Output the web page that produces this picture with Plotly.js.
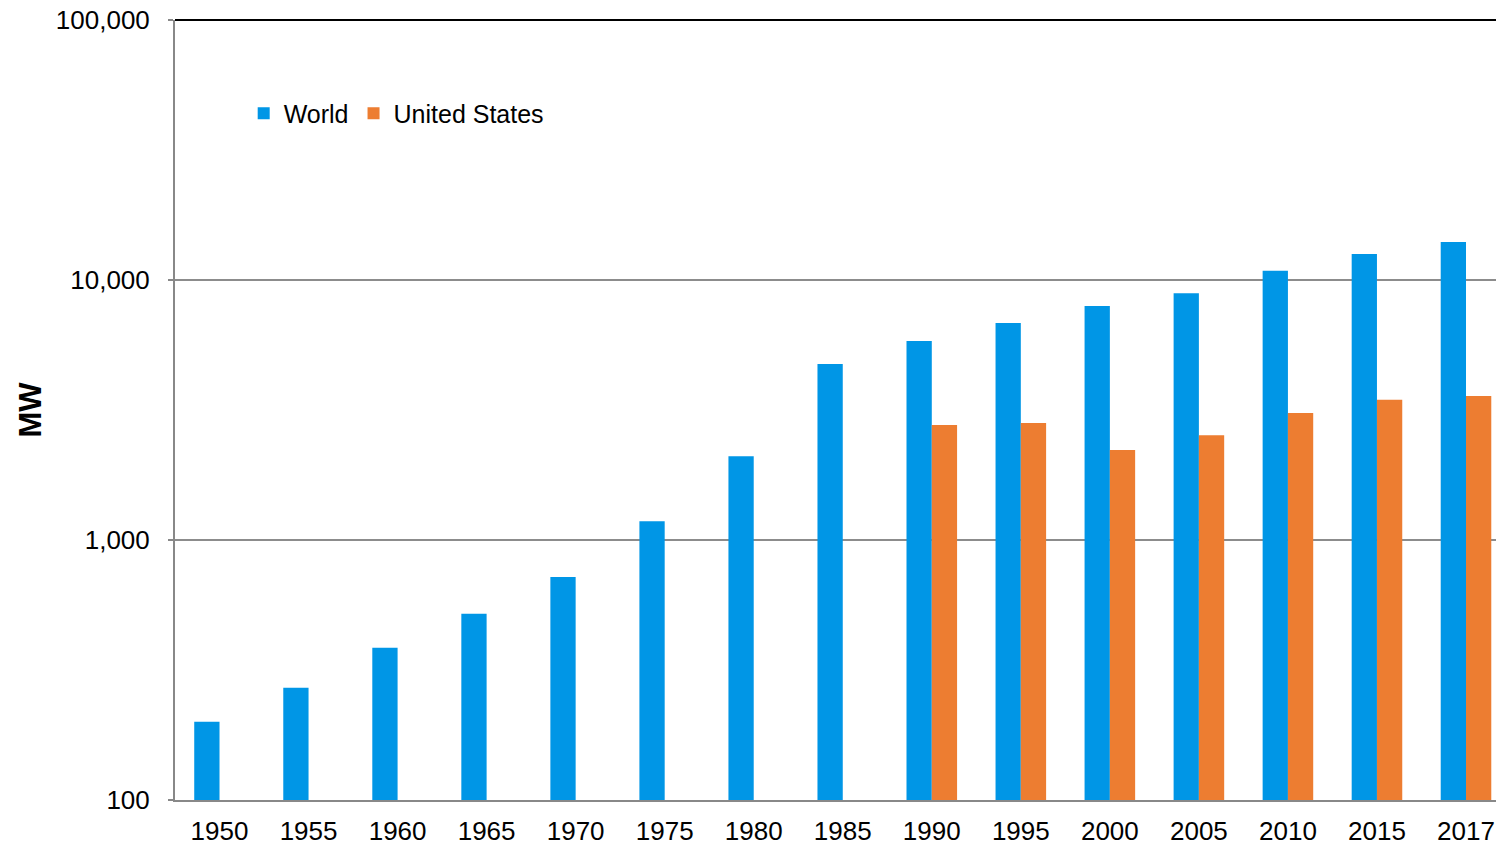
<!DOCTYPE html>
<html>
<head>
<meta charset="utf-8">
<script src="https://cdn.plot.ly/plotly-3.0.1.min.js"></script>
<style>
html,body{margin:0;padding:0;background:#fff;overflow:hidden;}
#chart{width:1496px;height:848px;}
</style>
</head>
<body>
<div id="chart"></div>
<script>
const years = ['1950','1955','1960','1965','1970','1975','1980','1985','1990','1995','2000','2005','2010','2015','2017'];
const worldMW = [200, 270, 385, 520, 720, 1180, 2100, 4750, 5820, 6830, 7950, 8900, 10850, 12600, 14000];
const usMW = [null, null, null, null, null, null, null, null, 2770, 2820, 2220, 2530, 3080, 3460, 3580];
const yTickVals = [100, 1000, 10000, 100000];
const yTickText = ['100', '1,000', '10,000', '100,000'];

const font = 'Liberation Sans, Arial, sans-serif';

const traces = [
  {type:'bar', name:'World', x:years, y:worldMW, marker:{color:'#0096E6'}},
  {type:'bar', name:'United States', x:years, y:usMW, marker:{color:'#ED7D31'}}
];

const layout = {
  width:1496, height:848,
  margin:{l:175, r:0, t:20, b:48},
  paper_bgcolor:'#fff', plot_bgcolor:'#fff',
  font:{family:font, size:26, color:'#000'},
  barmode:'group', bargap:0.432, bargroupgap:0,
  showlegend:true,
  legend:{orientation:'h', x:0.052, y:0.88, xanchor:'left', yanchor:'middle',
          font:{family:font, size:25, color:'#000'}, bgcolor:'rgba(0,0,0,0)', traceorder:'normal'},
  xaxis:{type:'category', range:[-0.5, 14.337], showgrid:false, showline:true,
         linecolor:'#888', linewidth:2, ticks:'', tickfont:{size:26}, ticklabelstandoff:7, fixedrange:true},
  yaxis:{type:'log', range:[2,5], tickvals:yTickVals, ticktext:yTickText,
         showgrid:true, gridcolor:'#8c8c8c', gridwidth:1.5, showline:true, linecolor:'#888', linewidth:2,
         ticks:'outside', ticklen:5, tickcolor:'#888', tickwidth:1.5, ticklabelstandoff:13,
         tickfont:{size:26}, zeroline:false,
         title:{text:'<b>MW</b>', font:{size:31, family:font}, standoff:5}},
  shapes:[{type:'line', xref:'paper', yref:'paper', x0:0, x1:1, y0:1, y1:1, line:{color:'#000', width:2}}]
};

Plotly.newPlot('chart', traces, layout, {displayModeBar:false, staticPlot:true});
</script>
</body>
</html>
